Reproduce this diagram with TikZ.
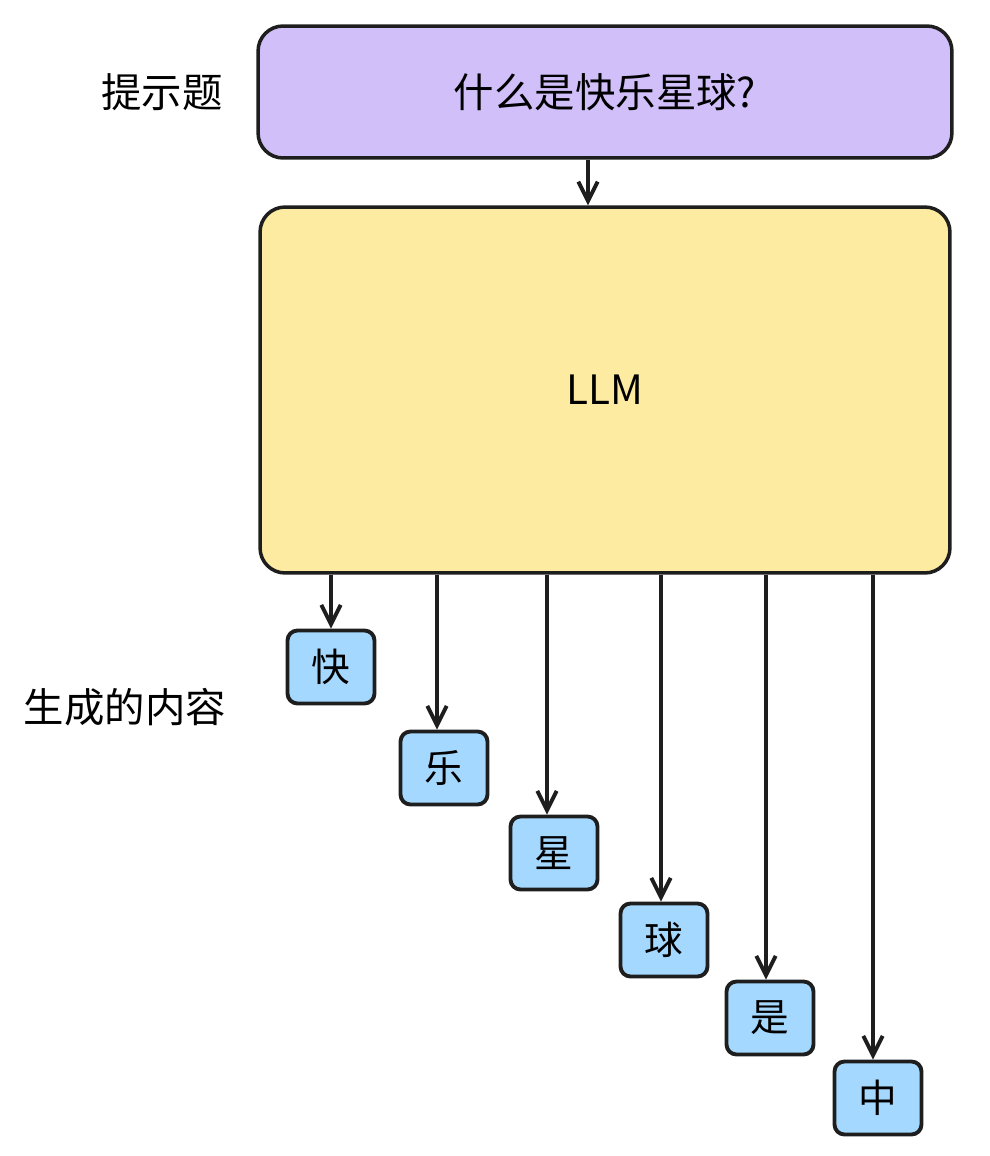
\documentclass[tikz,border=0pt]{standalone}
\usepackage{fontspec}
\setmainfont{Noto Sans CJK SC}
\usetikzlibrary{arrows.meta}
\definecolor{pur}{HTML}{D0BFF8}
\definecolor{yel}{HTML}{FCEBA0}
\definecolor{blu}{HTML}{A5D8FF}
\definecolor{ink}{HTML}{1E1E1E}
\begin{document}
\begin{tikzpicture}[x=0.02cm,y=-0.02cm,
  box/.style={draw=ink,line width=2pt,rounded corners=0.5cm},
  tok/.style={draw=ink,line width=2.2pt,fill=blu,rounded corners=0.2cm,minimum width=1.74cm,minimum height=1.46cm,font=\fontsize{22}{24}\selectfont},
  arr/.style={draw=ink,line width=2.4pt,-{Straight Barb[length=11pt,width=11pt,line width=2.2pt]}}]
\useasboundingbox (0,0) rectangle (990,1156);
\node[box,fill=pur,minimum width=13.88cm,minimum height=2.64cm,font=\fontsize{23}{26}\selectfont] (p) at (605,92) {什么是快乐星球?};
\node[box,fill=yel,minimum width=13.8cm,minimum height=7.32cm,font=\fontsize{23}{26}\selectfont] (llm) at (605,390) {LLM};
\node[font=\fontsize{23}{26}\selectfont] (l1) at (162,92) {提示题};
\node[font=\fontsize{23}{26}\selectfont] (l2) at (125,707) {生成的内容};
\node[tok] (t1) at (331,667) {快};
\node[tok] (t2) at (444,768) {乐};
\node[tok] (t3) at (554,853) {星};
\node[tok] (t4) at (664,940) {球};
\node[tok] (t5) at (770,1018) {是};
\node[tok] (t6) at (878,1098) {中};
\draw[arr] (p.south -| 588,0) -- (llm.north -| 588,0);
\draw[arr] (llm.south -| t1) -- (t1.north);
\draw[arr] (llm.south -| 437,0) -- (t2.north -| 437,0);
\draw[arr] (llm.south -| 547,0) -- (t3.north -| 547,0);
\draw[arr] (llm.south -| 661,0) -- (t4.north -| 661,0);
\draw[arr] (llm.south -| 766,0) -- (t5.north -| 766,0);
\draw[arr] (llm.south -| 873,0) -- (t6.north -| 873,0);
\end{tikzpicture}
\end{document}
